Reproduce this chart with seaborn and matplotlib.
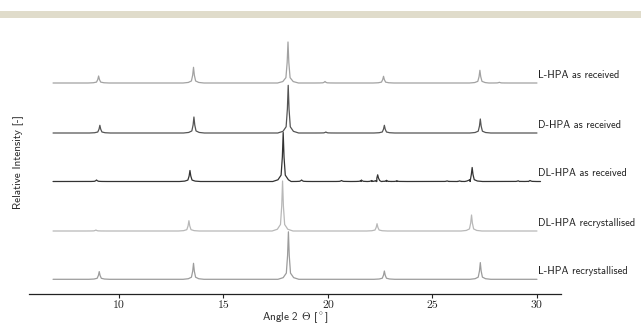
import numpy as np
import pandas as pd
import matplotlib
matplotlib.use("Agg")
import matplotlib.pyplot as plt
import seaborn as sns
from matplotlib.patches import Rectangle

# ---- data ----
samples = ["L-HPA as received", "D-HPA as received", "DL-HPA as received",
           "DL-HPA recrystallised", "L-HPA recrystallised"]
offsets = [211, 161, 112.5, 63, 14.7]
x_start, x_end = 6.85, 30.0

peaks_l_recv = [9.03, 13.57, 18.09, 19.86, 22.66, 27.27, 28.2]
heights_l_recv = [7.0, 15.7, 41.0, 1.5, 6.7, 12.7, 0.7]

peaks_d_recv = [9.09, 13.59, 18.10, 19.90, 22.70, 27.29]
heights_d_recv = [7.7, 16.0, 47.7, 1.0, 7.7, 14.0]

peaks_dl_recv = [8.93, 13.40, 17.86, 18.74, 20.65, 21.60, 22.09, 22.38, 22.80,
                 23.30, 25.70, 26.30, 26.90, 29.10, 29.67]
heights_dl_recv = [1.5, 11.0, 49.0, 1.5, 1.0, 1.5, 1.0, 6.7, 1.2,
                   0.7, 0.6, 0.6, 14.0, 0.7, 1.0]

peaks_dl_recr = [8.90, 13.35, 17.83, 22.35, 26.87]
heights_dl_recr = [1.0, 10.3, 50.0, 7.3, 16.0]

peaks_l_recr = [9.06, 13.57, 18.11, 22.70, 27.29]
heights_l_recr = [7.7, 16.0, 47.5, 8.3, 16.7]

peak_lists = [peaks_l_recv, peaks_d_recv, peaks_dl_recv, peaks_dl_recr, peaks_l_recr]
height_lists = [heights_l_recv, heights_d_recv, heights_dl_recv, heights_dl_recr, heights_l_recr]
colors = ["#a2a2a2", "#555555", "#333333", "#b8b8b8", "#9c9c9c"]

# peak outline style (relative shoulder offsets / fractions)
PROF_DX = [-0.5, -0.25, -0.1, -0.04, 0.0, 0.04, 0.1, 0.25, 0.5]
PROF_FR = [0.0, 0.035, 0.13, 0.5, 1.0, 0.5, 0.13, 0.035, 0.0]

rows = []
for name, off, pk, hh in zip(samples, offsets, peak_lists, height_lists):
    pts = [(x_start, 0.0), (x_end, 0.0)]
    for p, h in zip(pk, hh):
        for dx, fr in zip(PROF_DX, PROF_FR):
            pts.append((p + dx, fr * h))
    pts.sort()
    for x, y in pts:
        rows.append({"sample": name, "angle": x, "intensity": y + off})
df = pd.DataFrame(rows)

# ---- drawing ----
sns.set_theme(style="white")
plt.rcParams["mathtext.fontset"] = "cm"
plt.rcParams["axes.unicode_minus"] = False

fig = plt.figure(figsize=(6.41, 3.24), dpi=100)
ax = fig.add_axes([29 / 641, 30 / 324, (561 - 29) / 641, (294 - 30) / 324])

sns.lineplot(data=df, x="angle", y="intensity", hue="sample", hue_order=samples,
             palette=colors, estimator=None, sort=False, linewidth=0.9,
             legend=False, ax=ax)

for name, off in zip(samples, offsets):
    ax.text(x_end + 0.05, off + 8, name, fontsize=7.5, family="cmss10",
            va="center", ha="left", color="#222222")

ax.set_xlim(5.7, 31.15)
ax.set_ylim(0, 264)
ax.set_xticks([10, 15, 20, 25, 30])
ax.set_xticklabels(["10", "15", "20", "25", "30"], family="cmr10", fontsize=8.5)
ax.set_yticks([])
for s in ["left", "top", "right"]:
    ax.spines[s].set_visible(False)
ax.spines["bottom"].set_color("#222222")
ax.spines["bottom"].set_linewidth(0.9)
ax.tick_params(axis="x", direction="out", length=3, width=0.8, color="#222222",
               pad=1.5, bottom=True)
ax.set_xlabel(r"Angle 2 $\Theta$ [$^\circ$]", family="cmss10", fontsize=8, labelpad=0)
ax.set_ylabel("Relative Intensity [-]", family="cmss10", fontsize=8, labelpad=4)

# header band
fig.patches.append(Rectangle((0, 1 - 17.5 / 324), 1, 6.5 / 324, transform=fig.transFigure,
                             facecolor="#e0dccb", edgecolor="none", zorder=-1))

fig.savefig("out.png", dpi=100)
